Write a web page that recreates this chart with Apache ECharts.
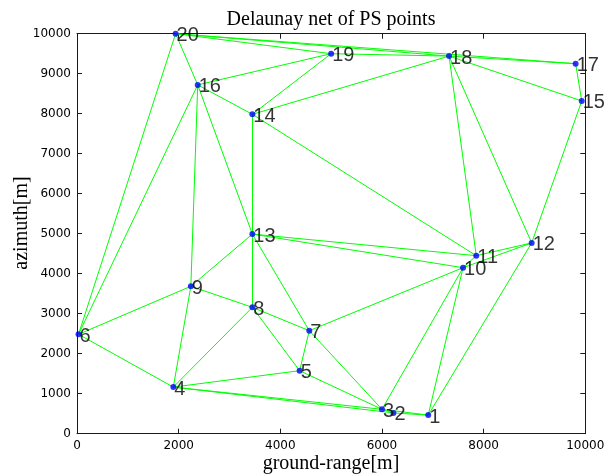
<!DOCTYPE html>
<html>
<head>
<meta charset="utf-8">
<script src="https://cdn.jsdelivr.net/npm/echarts@6/dist/echarts.min.js"></script>
<style>html,body{margin:0;padding:0;background:#fff;}#c{width:614px;height:476px;}</style>
</head>
<body>
<div id="c"></div>
<script>
// PS point ids and coordinates (ground-range, azimuth) in metres
var pointNames = ['1','2','3','4','5','6','7','8','9','10','11','12','13','14','15','16','17','18','19','20'];
var rangeX = [6910, 6225, 6000, 1895, 4380, 30, 4570, 3450, 2240, 7595, 7855, 8945, 3450, 3450, 9930, 2375, 9810, 7320, 5000, 1940];
var azimuthY = [465, 520, 610, 1165, 1575, 2485, 2575, 3160, 3685, 4150, 4450, 4770, 4990, 7985, 8320, 8720, 9250, 9440, 9500, 10000];
// Delaunay edges (point ids)
var edgeFrom = [20,20,20,20,20,19,19,19,18,18,18,18,18,17,15,16,16,16,16,14,14,13,13,13,13,13,9,9,9,8,8,8,7,7,7,5,5,4,4,4,3,2,10,10,11,10,10,12,3];
var edgeTo   = [6,16,19,18,17,18,16,14,17,15,14,11,12,15,12,14,6,9,13,13,11,11,10,9,8,7,6,8,4,7,5,4,5,10,3,4,3,6,3,2,2,1,11,12,12,3,1,1,1];
// axis ticks
var xTicks = {min: 0, max: 10000, step: 2000};
var yTicks = {min: 0, max: 10000, step: 1000};

var pts = pointNames.map(function (n, i) { return {name: n, value: [rangeX[i], azimuthY[i]]}; });
var segs = edgeFrom.map(function (a, i) {
  var b = edgeTo[i];
  return {coords: [[rangeX[a-1], azimuthY[a-1]], [rangeX[b-1], azimuthY[b-1]]]};
});

var axisLineStyle = {color: '#1a1a1a', width: 1};
var tickFont = {fontFamily: 'DejaVu Sans', fontSize: 12, color: '#000', formatter: function (v) { return String(v); }};
function xa(pos, show) {
  return {type: 'value', position: pos, min: xTicks.min, max: xTicks.max, interval: xTicks.step,
    axisLine: {show: true, onZero: false, lineStyle: axisLineStyle},
    axisTick: {show: true, inside: true, length: 5, lineStyle: axisLineStyle},
    axisLabel: Object.assign({show: show, margin: 6}, tickFont),
    splitLine: {show: false}};
}
function ya(pos, show) {
  return {type: 'value', position: pos, min: yTicks.min, max: yTicks.max, interval: yTicks.step,
    axisLine: {show: true, onZero: false, lineStyle: axisLineStyle},
    axisTick: {show: true, inside: true, length: 5, lineStyle: axisLineStyle},
    axisLabel: Object.assign({show: show, margin: 6}, tickFont),
    splitLine: {show: false}};
}

var chart = echarts.init(document.getElementById('c'), null, {renderer: 'canvas'});
chart.setOption({
  animation: false,
  backgroundColor: '#fff',
  grid: {left: 77, right: 28.7, top: 33.7, bottom: 42.3, containLabel: false},
  xAxis: [xa('bottom', true), xa('top', false)],
  yAxis: [ya('left', true), ya('right', false)],
  graphic: [
    {type: 'text', x: 331, y: 20, style: {text: 'Delaunay net of PS points', font: '20px "Liberation Serif"', fill: '#000', textAlign: 'center', textVerticalAlign: 'middle'}},
    {type: 'text', x: 331, y: 464, style: {text: 'ground-range[m]', font: '20px "Liberation Serif"', fill: '#000', textAlign: 'center', textVerticalAlign: 'middle'}},
    {type: 'text', x: 22, y: 223, rotation: Math.PI / 2, style: {text: 'azimuth[m]', font: '20px "Liberation Serif"', fill: '#000', textAlign: 'center', textVerticalAlign: 'middle'}}
  ],
  series: [
    {type: 'lines', coordinateSystem: 'cartesian2d', xAxisIndex: 0, yAxisIndex: 0, data: segs,
      lineStyle: {color: '#00ff00', width: 1, opacity: 1}, silent: true, z: 2},
    {type: 'scatter', xAxisIndex: 0, yAxisIndex: 0, data: pts, symbol: 'circle', symbolSize: 6,
      itemStyle: {color: '#0000ff'}, clip: false, z: 3,
      label: {show: true, formatter: '{b}', position: [4, 5], align: 'left', verticalAlign: 'middle',
        fontFamily: 'Liberation Sans', fontSize: 20, color: '#000'}}
  ]
});
</script>
</body>
</html>
